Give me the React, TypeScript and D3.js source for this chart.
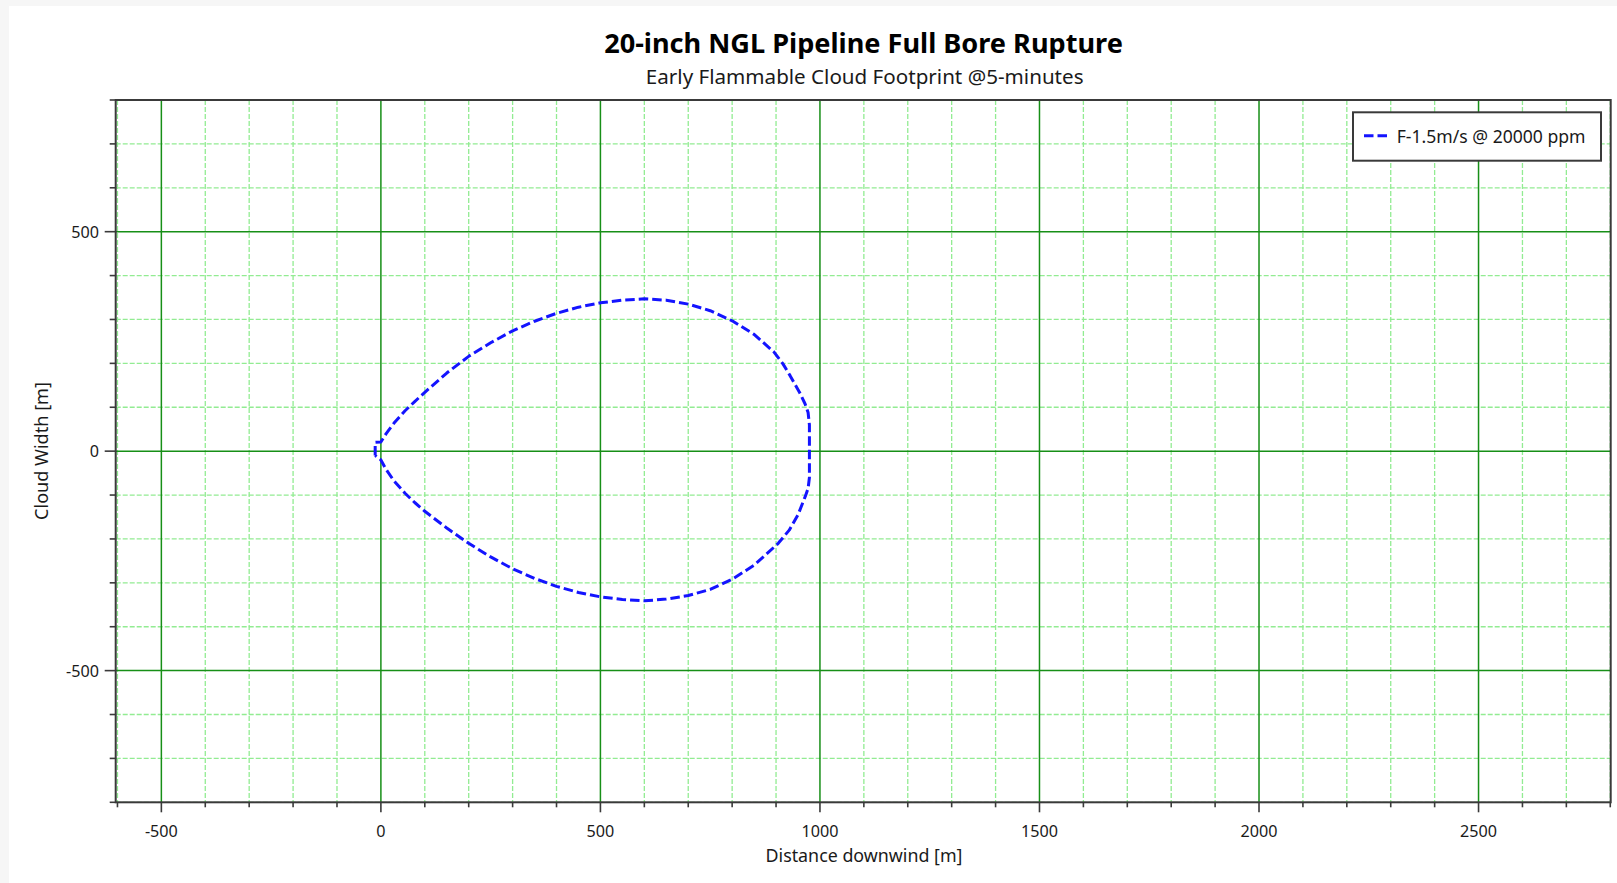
import React, { useMemo } from "react";
import * as d3 from "d3";

// ---- Data ----
const cloudDistance = [
  -13, -13, 0, 12, 30, 55, 77, 100, 150, 200, 250, 300, 350, 400, 450, 500, 550, 600, 650, 700, 750, 800, 850, 895,
  915, 932, 953, 966, 973, 976, 976, 973, 967, 950, 930, 905, 850, 800, 750, 700, 650, 600, 550, 500, 450, 400, 350,
  300, 250, 200, 150, 100, 77, 55, 30, 12, 0, -13,
];
const cloudWidth = [
  -10, 20, 21, 40, 64, 92, 113, 134, 178, 216, 247, 274, 296, 314, 328, 338, 344, 347, 344, 335, 320, 297, 266, 226,
  200, 172, 135, 108, 88, 60, -60, -85, -102, -145, -180, -210, -260, -292, -315, -329, -337, -341, -338, -332, -322,
  -308, -290, -268, -241, -210, -175, -137, -117, -96, -68, -42, -20, -10,
];
const seriesName = "F-1.5m/s @ 20000 ppm";
const xMajorTicks = [-500, 0, 500, 1000, 1500, 2000, 2500];
const yMajorTicks = [-500, 0, 500];
const xDomain = [-604, 2801];
const yDomain = [-800, 800];
const titleText = "20-inch NGL Pipeline Full Bore Rupture";
const subtitleText = "Early Flammable Cloud Footprint @5-minutes";
const xTitle = "Distance downwind [m]";
const yTitle = "Cloud Width [m]";

const FONT = "'Noto Sans', 'Open Sans', sans-serif";

function fitSize(text: string, weight: string, target: number, fallback: number) {
  try {
    const ctx = document.createElement("canvas").getContext("2d");
    if (!ctx) return fallback;
    ctx.font = `${weight} 100px ${FONT}`;
    const w = ctx.measureText(text).width;
    if (!w) return fallback;
    return (100 * target) / w;
  } catch (e) {
    return fallback;
  }
}

export default function App() {
  const W = 1617;
  const H = 883;
  const L = 115.7,
    R = 1610.7,
    T = 100,
    B = 802.3;

  const x = d3.scaleLinear().domain(xDomain).range([L, R]);
  const y = d3.scaleLinear().domain(yDomain).range([B, T]);

  const xMinor = x.ticks(34).filter((v) => !xMajorTicks.includes(v));
  const yMinor = y.ticks(16).filter((v) => !yMajorTicks.includes(v));

  const pts = cloudDistance.map((d, i) => [d, cloudWidth[i]] as [number, number]);
  const line = d3
    .line<[number, number]>()
    .x((d) => x(d[0]))
    .y((d) => y(d[1]));

  const sizes = useMemo(
    () => ({
      title: fitSize(titleText, "bold", 519, 24),
      sub: fitSize(subtitleText, "normal", 438, 18),
      xt: fitSize(xTitle, "normal", 197, 16),
      yt: fitSize(yTitle, "normal", 138, 16),
      tick: fitSize("2500", "normal", 37, 16),
      leg: fitSize(seriesName, "normal", 189, 16),
    }),
    []
  );

  const blue = "#1414ff";
  const minorColor = "#92ec92";
  const majorColor = "#178f17";
  const frame = "#3a3a3a";
  const textColor = "#1a1a1a";

  return (
    <svg
      width={W}
      height={H}
      style={{ position: "absolute", left: 0, top: 0, display: "block" }}
      fontFamily={FONT}
    >
      <rect x={0} y={0} width={W} height={H} fill="#f6f6f6" />
      <rect x={9} y={6} width={W - 9} height={H - 6} fill="#ffffff" />

      {/* minor grid */}
      <g stroke={minorColor} strokeWidth={1.3} strokeDasharray="5,2">
        {xMinor.map((v) => (
          <line key={"xm" + v} x1={x(v)} x2={x(v)} y1={T} y2={B} />
        ))}
        {yMinor.map((v) => (
          <line key={"ym" + v} x1={L} x2={R} y1={y(v)} y2={y(v)} />
        ))}
      </g>
      {/* major grid */}
      <g stroke={majorColor} strokeWidth={1.5}>
        {xMajorTicks.map((v) => (
          <line key={"xM" + v} x1={x(v)} x2={x(v)} y1={T} y2={B} />
        ))}
        {yMajorTicks.map((v) => (
          <line key={"yM" + v} x1={L} x2={R} y1={y(v)} y2={y(v)} />
        ))}
      </g>

      {/* frame */}
      <rect x={L} y={T} width={R - L} height={B - T} fill="none" stroke={frame} strokeWidth={2} />

      {/* ticks */}
      <g stroke={frame} strokeWidth={1.6}>
        {xMinor.map((v) => (
          <line key={"xtm" + v} x1={x(v)} x2={x(v)} y1={B} y2={B + 5} />
        ))}
        {xMajorTicks.map((v) => (
          <line key={"xtM" + v} x1={x(v)} x2={x(v)} y1={B} y2={B + 10} />
        ))}
        {yMinor.map((v) => (
          <line key={"ytm" + v} x1={L - 6} x2={L} y1={y(v)} y2={y(v)} />
        ))}
        {yMajorTicks.map((v) => (
          <line key={"ytM" + v} x1={L - 11} x2={L} y1={y(v)} y2={y(v)} />
        ))}
      </g>

      {/* tick labels */}
      <g fill={textColor} fontSize={sizes.tick}>
        {xMajorTicks.map((v) => (
          <text key={"xl" + v} x={x(v)} y={830.5} textAnchor="middle" dominantBaseline="central">
            {String(v)}
          </text>
        ))}
        {yMajorTicks.map((v) => (
          <text key={"yl" + v} x={99} y={y(v)} textAnchor="end" dominantBaseline="central">
            {String(v)}
          </text>
        ))}
      </g>

      {/* curve */}
      <path
        d={line(pts) || ""}
        fill="none"
        stroke={blue}
        strokeWidth={3}
        strokeDasharray="9.5,4"
        strokeLinejoin="round"
      />

      {/* legend */}
      <rect x={1353} y={112.3} width={248} height={48.4} fill="#ffffff" stroke={frame} strokeWidth={2} />
      <line x1={1364} x2={1389.5} y1={135.7} y2={135.7} stroke={blue} strokeWidth={3} strokeDasharray="9.5,4" />
      <text x={1396.7} y={135.5} fontSize={sizes.leg} fill={textColor} dominantBaseline="central">
        {seriesName}
      </text>

      {/* titles */}
      <text x={863.5} y={42.3} textAnchor="middle" dominantBaseline="central" fontWeight="bold" fontSize={sizes.title} fill="#000">
        {titleText}
      </text>
      <text x={864.7} y={75.5} textAnchor="middle" dominantBaseline="central" fontSize={sizes.sub} fill={textColor}>
        {subtitleText}
      </text>
      <text x={864} y={855} textAnchor="middle" dominantBaseline="central" fontSize={sizes.xt} fill={textColor}>
        {xTitle}
      </text>
      <text
        transform={`translate(41,451) rotate(-90)`}
        textAnchor="middle"
        dominantBaseline="central"
        fontSize={sizes.yt}
        fill={textColor}
      >
        {yTitle}
      </text>
    </svg>
  );
}
